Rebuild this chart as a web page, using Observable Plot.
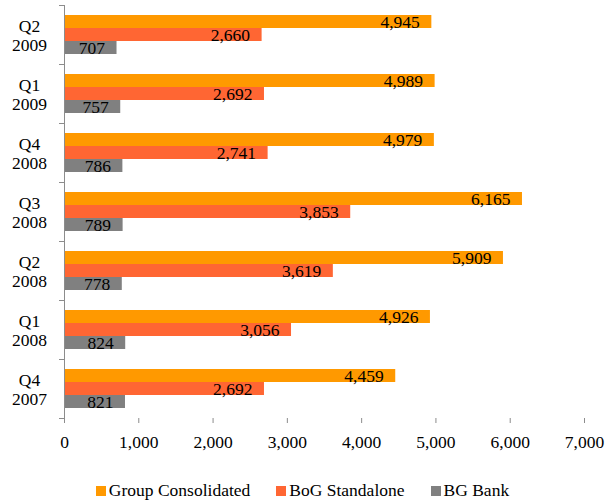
<!DOCTYPE html>
<html>
<head>
<meta charset="utf-8">
<script src="https://cdn.jsdelivr.net/npm/d3@7"></script>
<script src="https://cdn.jsdelivr.net/npm/@observablehq/plot@0.6"></script>
<style>
  body { margin: 0; background: #fff; font-family: "Liberation Serif", "Times New Roman", serif; }
  #legend { display: flex; justify-content: center; align-items: center; gap: 26px; font-size: 17.5px; color: #000; margin-top: 25px; }
  #legend .item { display: flex; align-items: center; gap: 3px; }
  #legend .sw { width: 10px; height: 10px; display: inline-block; }
</style>
</head>
<body>
<div id="chart"></div>
<div id="legend"></div>
<script>
// Quarterly figures, newest quarter first (top of the chart)
const periods = ["Q2\n2009", "Q1\n2009", "Q4\n2008", "Q3\n2008", "Q2\n2008", "Q1\n2008", "Q4\n2007"];
const seriesNames = ["Group Consolidated", "BoG Standalone", "BG Bank"];
const groupConsolidated = [4945, 4989, 4979, 6165, 5909, 4926, 4459];
const bogStandalone = [2660, 2692, 2741, 3853, 3619, 3056, 2692];
const bgBank = [707, 757, 786, 789, 778, 824, 821];
const seriesColors = ["#ff9900", "#ff6633", "#808080"];
const xTicks = [0, 1000, 2000, 3000, 4000, 5000, 6000, 7000];

const seriesValues = [groupConsolidated, bogStandalone, bgBank];
const rows = periods.flatMap((period, i) =>
  seriesNames.map((series, s) => ({period, series, value: seriesValues[s][i]}))
);

const W = 605, H = 455, mL = 64, mR = 21, mT = 5, mB = 37;
const axisGray = "#8c8c8c";
const fmt = d3.format(",");

const chart = Plot.plot({
  width: W,
  height: H,
  marginLeft: mL,
  marginRight: mR,
  marginTop: mT,
  marginBottom: mB,
  style: {fontFamily: "'Liberation Serif', 'Times New Roman', serif", fontSize: "17.5px", color: "#000", background: "#fff"},
  x: {domain: [0, 7000], axis: null},
  y: {domain: seriesNames, axis: null, paddingInner: 0, paddingOuter: 0.72},
  fy: {domain: periods, axis: null, padding: 0},
  color: {domain: seriesNames, range: seriesColors},
  marks: [
    Plot.barX(rows, {x: "value", y: "series", fy: "period", fill: "series"}),
    Plot.text(rows, {x: "value", y: "series", fy: "period", text: (d) => fmt(d.value), textAnchor: "end", dx: -12, fill: "#000"}),
    // vertical category axis and the group separators
    Plot.ruleX([0], {stroke: axisGray}),
    Plot.frame({anchor: "top", insetLeft: -5, insetRight: W - mL - mR, stroke: axisGray}),
    Plot.frame({anchor: "bottom", insetLeft: -5, insetRight: W - mL - mR, stroke: axisGray}),
    Plot.text(periods, {fy: (d) => d, text: (d) => d, frameAnchor: "left", dx: -35, textAnchor: "middle", lineHeight: 1.1, fill: "#000"}),
    // value axis
    Plot.axisX({ticks: xTicks, tickFormat: fmt, tickSize: 5, tickPadding: 12, stroke: axisGray, fill: "#000", label: null, line: true})
  ]
});
document.getElementById("chart").appendChild(chart);

const legend = document.getElementById("legend");
seriesNames.forEach((name, i) => {
  const item = document.createElement("span");
  item.className = "item";
  const sw = document.createElement("span");
  sw.className = "sw";
  sw.style.background = seriesColors[i];
  const label = document.createElement("span");
  label.textContent = name;
  item.append(sw, label);
  legend.appendChild(item);
});
</script>
</body>
</html>
